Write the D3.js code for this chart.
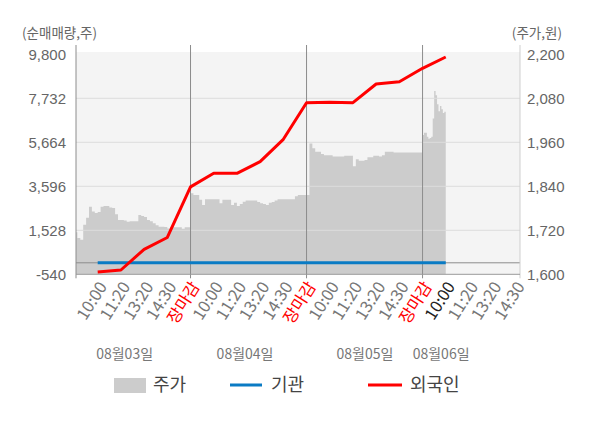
<!DOCTYPE html>
<html><head><meta charset="utf-8">
<script src="https://cdn.jsdelivr.net/npm/d3@7"></script>
<style>
body{margin:0;background:#fff;}
svg{display:block;font-family:"Noto Sans CJK KR","Noto Sans",sans-serif;}
</style></head><body>
<svg id="c" width="600" height="428"></svg>
<script>
// ---- data ----
const dates = ["08월03일","08월04일","08월05일","08월06일"];
const slotLabels = ["10:00","11:20","13:20","14:30","장마감"];
const leftTicks = [-540,1528,3596,5664,7732,9800];
const rightTicks = [1600,1720,1840,1960,2080,2200];
const priceDay1 = [1715,1699,1694,1735,1754,1784,1771,1767,1770,1784,1786,1786,1782,1781,1764,1748,1748,1747,1743,1745,1745,1745,1762,1759,1756,1748,1745,1739,1734,1730,1730,1729,1725,1728,1728,1728,1728,1724,1728,1728];
const priceDay2 = [1821,1816,1816,1803,1789,1805,1805,1805,1805,1805,1794,1803,1803,1803,1789,1795,1786,1792,1798,1801,1801,1801,1801,1797,1794,1792,1789,1795,1797,1801,1805,1805,1805,1805,1805,1805,1813,1816,1816,1816];
const priceDay3 = [1816,1957,1944,1934,1934,1928,1925,1925,1925,1921,1921,1921,1921,1923,1923,1923,1895,1914,1910,1910,1912,1919,1919,1923,1923,1921,1925,1934,1934,1934,1932,1932,1932,1932,1932,1932,1932,1932,1932,1932];
const priceDay4 = [1980,1986,1986,1975,1970,1972,1975,2025,2100,2088,2064,2045,2059,2050,2040,2043];
const foreignNet = [-432,-338,635,1190,3570, 4207,4207,4752,5805,7525, 7545,7525,8404,8512,9142, 9673];
const institutionNet = [0,0,0,0,0, 0,0,0,0,0, 0,0,0,0,0, 0];

// ---- layout ----
const SLOTS_PER_DAY = 5;
const priceSpan = [5,5,5,1];        // slots covered by each day's price samples
const dateLabelSlot = [2.16,7.35,12.52,15.8];
const L = 76, R = 520, T = 52, B = 274.3, axisTop = 45;

const svg = d3.select("#c");
const x = d3.scaleLinear().domain([0,19.2]).range([74.5,R]);
const yL = d3.scaleLinear().domain([-540,9800]).range([B,54.3]);
const yR = d3.scaleLinear().domain([1600,2200]).range([B,54.3]);
const fmt = d => d3.format(",")(d).replace("\u2212","-");

svg.append("defs").append("clipPath").attr("id","clip")
  .append("rect").attr("x",L).attr("y",T).attr("width",R-L).attr("height",B-T);

svg.append("rect").attr("x",L).attr("y",T).attr("width",R-L).attr("height",B-T).attr("fill","#f4f4f4");

// price area
const pricePts = [];
[priceDay1,priceDay2,priceDay3,priceDay4].forEach((arr,d)=>{
  const step = priceSpan[d]/arr.length;
  arr.forEach((v,i)=>pricePts.push({s:d*SLOTS_PER_DAY+i*step, v}));
  pricePts.push({s:d*SLOTS_PER_DAY+priceSpan[d], v:arr[arr.length-1]});
});
const area = d3.area().curve(d3.curveStepAfter)
  .x(p=>x(p.s)).y0(B).y1(p=>yR(p.v));
svg.append("path").datum(pricePts).attr("clip-path","url(#clip)")
  .attr("d",area).attr("fill","#cccccc");

// gridlines
svg.append("g").selectAll("line").data(leftTicks.slice(1,-1)).join("line")
  .attr("x1",L).attr("x2",R).attr("y1",d=>yL(d)).attr("y2",d=>yL(d))
  .attr("stroke","#dcdcdc").attr("stroke-width",1);

// zero line
svg.append("line").attr("x1",L).attr("x2",R).attr("y1",yL(0)).attr("y2",yL(0))
  .attr("stroke","#8c8c8c").attr("stroke-width",1);

// day separators
svg.append("g").selectAll("line").data([1,2,3]).join("line")
  .attr("x1",d=>x(d*SLOTS_PER_DAY)).attr("x2",d=>x(d*SLOTS_PER_DAY))
  .attr("y1",axisTop).attr("y2",B+4).attr("stroke","#8c8c8c");

// axis lines
svg.append("line").attr("x1",L).attr("x2",L).attr("y1",axisTop).attr("y2",B+4).attr("stroke","#8c8c8c");
svg.append("line").attr("x1",R).attr("x2",R).attr("y1",axisTop).attr("y2",B+4).attr("stroke","#cfcfcf");
svg.append("line").attr("x1",L).attr("x2",R).attr("y1",B).attr("y2",B).attr("stroke","#999");

// flow lines
const flowPts = arr => arr.map((v,k)=>({s:k+1, v}));
const line = d3.line().x(p=>x(p.s)).y(p=>yL(p.v));
svg.append("path").datum(flowPts(institutionNet)).attr("d",line)
  .attr("fill","none").attr("stroke","#0a7bc4").attr("stroke-width",3);
svg.append("path").datum(flowPts(foreignNet)).attr("d",line)
  .attr("fill","none").attr("stroke","#ff0000").attr("stroke-width",3).attr("stroke-linejoin","round");

// left axis labels
const gl = svg.append("g").attr("transform",`translate(${L},0)`)
  .call(d3.axisLeft(yL).tickValues(leftTicks).tickFormat(fmt).tickSize(0).tickPadding(10));
gl.select(".domain").remove();
gl.selectAll("text").attr("fill","#666").style("font-size","15px").style("font-family","inherit");

const gr = svg.append("g").attr("transform",`translate(${R},0)`)
  .call(d3.axisRight(yR).tickValues(rightTicks).tickFormat(fmt).tickSize(0).tickPadding(7));
gr.select(".domain").remove();
gr.selectAll("text").attr("fill","#666").style("font-size","15px").style("font-family","inherit");

// titles
svg.append("text").attr("x",22).attr("y",33).attr("dy","0.35em").attr("fill","#666")
  .style("font-size","13.5px").text("(순매매량,주)");
svg.append("text").attr("x",562).attr("y",33).attr("dy","0.35em").attr("text-anchor","end").attr("fill","#666")
  .style("font-size","13.5px").text("(주가,원)");

// x tick labels
const xt = d3.range(1,20);
svg.append("g").selectAll("text").data(xt).join("text")
  .attr("transform",s=>`translate(${x(s)+5},${B+9}) rotate(-58)`)
  .attr("text-anchor","end").attr("dy","0.35em")
  .style("font-size","16.5px")
  .attr("fill",s=>{const lab=slotLabels[(s-1)%5]; if(lab==="장마감") return "#ff0000"; if(s===16) return "#222"; return "#777";})
  .text(s=>slotLabels[(s-1)%5]);

// date labels
svg.append("g").selectAll("text").data(dates).join("text")
  .attr("x",(d,i)=>x(dateLabelSlot[i])).attr("y",354).attr("dy","0.35em")
  .attr("text-anchor","middle").attr("fill","#777").style("font-size","14px").text(d=>d);

// legend
const lg = svg.append("g").style("font-size","18px");
lg.append("rect").attr("x",114).attr("y",378).attr("width",32).attr("height",15).attr("fill","#cccccc");
lg.append("text").attr("x",153).attr("y",385).attr("dy","0.35em").attr("fill","#444").text("주가");
lg.append("line").attr("x1",230).attr("x2",262).attr("y1",385).attr("y2",385).attr("stroke","#0a7bc4").attr("stroke-width",3);
lg.append("text").attr("x",271).attr("y",385).attr("dy","0.35em").attr("fill","#444").text("기관");
lg.append("line").attr("x1",368).attr("x2",402).attr("y1",385).attr("y2",385).attr("stroke","#ff0000").attr("stroke-width",3);
lg.append("text").attr("x",410).attr("y",385).attr("dy","0.35em").attr("fill","#444").text("외국인");
</script>
</body></html>
